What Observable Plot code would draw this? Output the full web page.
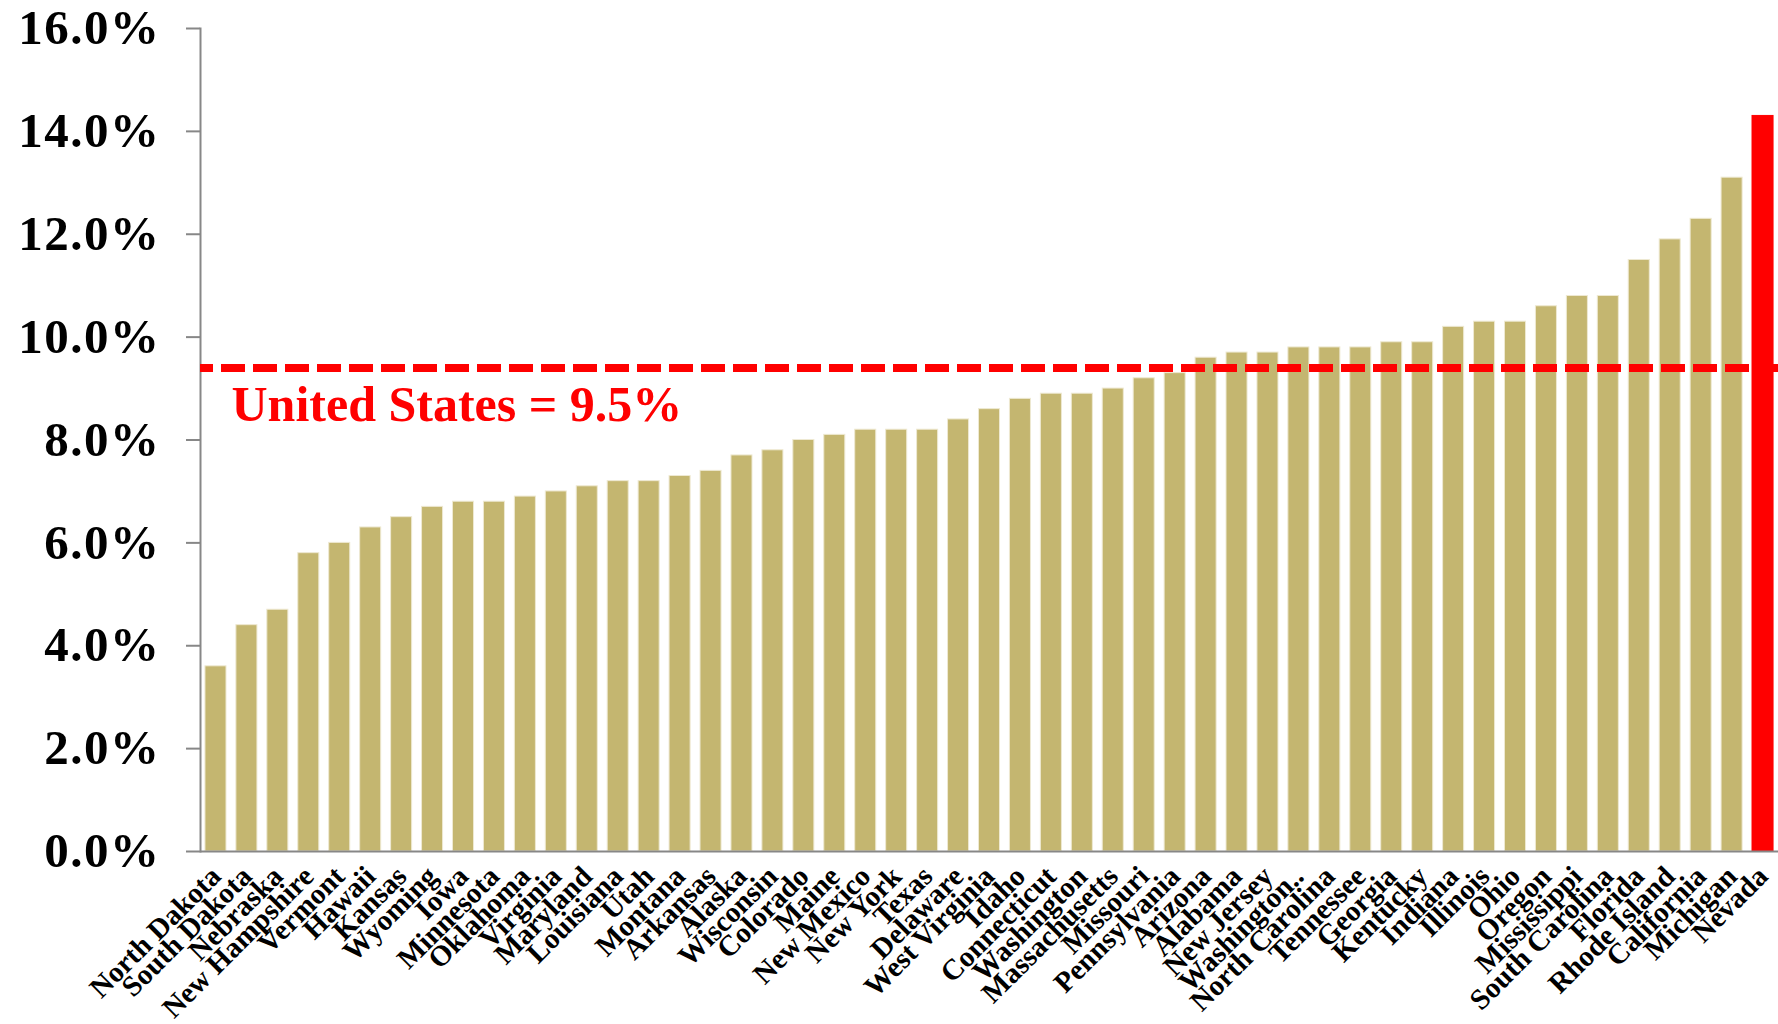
<!DOCTYPE html>
<html>
<head>
<meta charset="utf-8">
<script src="https://cdn.jsdelivr.net/npm/d3@7"></script>
<script src="https://cdn.jsdelivr.net/npm/@observablehq/plot@0.6"></script>
<style>
  html, body { margin: 0; padding: 0; background: #fff; }
  #chart { width: 1778px; height: 1024px; overflow: hidden; }
  #chart g[aria-label="y-axis tick label"] text { letter-spacing: 1.5px; }
</style>
</head>
<body>
<div id="chart"></div>
<script>
// ---- data ----
const states = [
  "North Dakota","South Dakota","Nebraska","New Hampshire","Vermont","Hawaii","Kansas","Wyoming",
  "Iowa","Minnesota","Oklahoma","Virginia","Maryland","Louisiana","Utah","Montana","Arkansas",
  "Alaska","Wisconsin","Colorado","Maine","New Mexico","New York","Texas","Delaware","West Virginia",
  "Idaho","Connecticut","Washington","Massachusetts","Missouri","Pennsylvania","Arizona","Alabama",
  "New Jersey","Washington..","North Carolina","Tennessee","Georgia","Kentucky","Indiana","Illinois",
  "Ohio","Oregon","Mississippi","South Carolina","Florida","Rhode Island","California","Michigan","Nevada"
];
const rates = [
  3.6, 4.4, 4.7, 5.8, 6.0, 6.3, 6.5, 6.7,
  6.8, 6.8, 6.9, 7.0, 7.1, 7.2, 7.2, 7.3, 7.4,
  7.7, 7.8, 8.0, 8.1, 8.2, 8.2, 8.2, 8.4, 8.6,
  8.8, 8.9, 8.9, 9.0, 9.2, 9.3, 9.6, 9.7,
  9.7, 9.8, 9.8, 9.8, 9.9, 9.9, 10.2, 10.3,
  10.3, 10.6, 10.8, 10.8, 11.5, 11.9, 12.3, 13.1, 14.3
];
const highlighted = ["Nevada"];
const usLineValue = 9.4;
const usLabel = "United States = 9.5%";
const yTicks = [0, 2, 4, 6, 8, 10, 12, 14, 16];

const tan = "#C4B670";
const red = "#FF0000";
const gray = "#878787";

const table = states.map((s, i) => ({state: s, rate: rates[i], hi: highlighted.includes(s)}));

const chart = Plot.plot({
  width: 1778,
  height: 1024,
  marginLeft: 200,
  marginRight: 0,
  marginTop: 28,
  marginBottom: 173,
  style: {background: "#fff"},
  x: {type: "band", domain: states, paddingInner: 0.32, paddingOuter: 0.16, label: null},
  y: {domain: [0, 16], label: null},
  color: {type: "identity"},
  marks: [
    Plot.barY(table, {
      x: "state", y: "rate",
      fill: d => d.hi ? red : tan,
      stroke: d => d.hi ? red : "#EEE9D2",
      strokeWidth: 1
    }),
    Plot.ruleY([0], {stroke: gray, strokeWidth: 2}),
    Plot.frame({anchor: "left", stroke: gray, strokeWidth: 2}),
    Plot.ruleY([usLineValue], {stroke: red, strokeWidth: 8, strokeDasharray: "24,8", strokeDashoffset: 11}),
    Plot.text([usLabel], {
      frameAnchor: "left", y: () => usLineValue, text: d => d,
      dx: 31, dy: 37, textAnchor: "start",
      fill: red, fontSize: 50, fontWeight: "bold", fontFamily: "Liberation Serif"
    }),
    Plot.axisY({
      ticks: yTicks,
      tickFormat: d => d.toFixed(1) + "%",
      tickSize: 14, tickPadding: 26,
      stroke: gray, strokeWidth: 2, fill: "black",
      fontSize: 49, fontWeight: "bold", fontFamily: "Liberation Serif",
      label: null
    }),
    Plot.axisX({
      tickRotate: -45, tickSize: 0, tickPadding: 20,
      fill: "black",
      fontSize: 29, fontWeight: "bold", fontFamily: "Liberation Serif",
      label: null
    })
  ]
});
document.getElementById("chart").appendChild(chart);
</script>
</body>
</html>
